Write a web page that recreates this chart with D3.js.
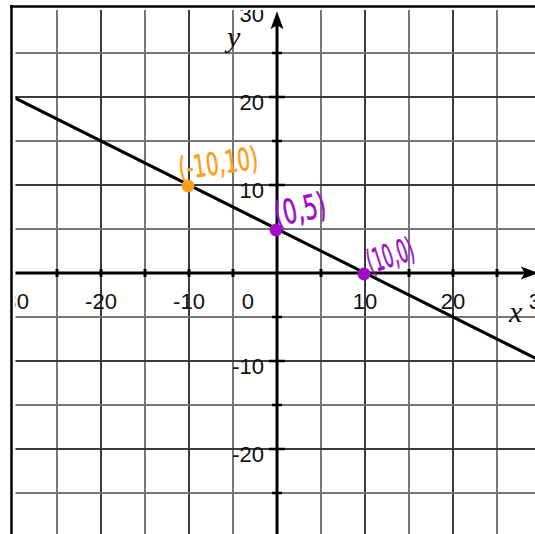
<!DOCTYPE html>
<html>
<head>
<meta charset="utf-8">
<script src="https://cdn.jsdelivr.net/npm/d3@7"></script>
<style>
  html, body { margin: 0; padding: 0; background: #fff; }
  svg { display: block; }
</style>
</head>
<body>
<svg id="chart" width="535" height="534"></svg>
<script>
// Coordinate plane values
const gridValues = [-30, -25, -20, -15, -10, -5, 0, 5, 10, 15, 20, 25, 30];
const xTickLabels = [-30, -20, -10, 10, 20, 30];
const yTickLabels = [-30, -20, -10, 10, 20, 30];

// Line y = 5 - x/2, drawn across the plane
const lineX = [-30, 30];
const lineY = [20, -10];

// Marked points and their handwritten labels
const pointX = [-10, 0, 10];
const pointY = [10, 5, 0];
const pointLabels = ["(-10,10)", "(0,5)", "(10,0)"];
const pointColors = ["#f9a01b", "#9e0fc6", "#9e0fc6"];

const W = 535, H = 534;
const svg = d3.select("#chart");

const x = d3.scaleLinear().domain([-30, 30]).range([13, 541]);
const y = d3.scaleLinear().domain([-30, 30]).range([537, 9]);

// plot area is clipped inside the frame
svg.append("defs").append("clipPath").attr("id", "plotClip")
  .append("rect").attr("x", 15.5).attr("y", 10).attr("width", W - 15.5).attr("height", H - 10);

const plot = svg.append("g").attr("clip-path", "url(#plotClip)");

// grid
const isMajor = v => v % 10 === 0;
plot.append("g").selectAll("line.v").data(gridValues.filter(v => v !== 0)).join("line")
  .attr("x1", d => x(d)).attr("x2", d => x(d))
  .attr("y1", y(30)).attr("y2", y(-30))
  .attr("stroke", d => isMajor(d) ? "#3c3c3c" : "#777")
  .attr("stroke-width", 2);
plot.append("g").selectAll("line.h").data(gridValues.filter(v => v !== 0)).join("line")
  .attr("y1", d => y(d)).attr("y2", d => y(d))
  .attr("x1", x(-30)).attr("x2", x(30))
  .attr("stroke", d => isMajor(d) ? "#3c3c3c" : "#777")
  .attr("stroke-width", 2);

// axes
const tipX = x(29.75), tipY = y(29.75);
plot.append("line")
  .attr("x1", x(-30)).attr("x2", tipX - 6)
  .attr("y1", y(0)).attr("y2", y(0))
  .attr("stroke", "#000").attr("stroke-width", 3);
plot.append("line")
  .attr("x1", x(0)).attr("x2", x(0))
  .attr("y1", y(-30)).attr("y2", tipY + 6)
  .attr("stroke", "#000").attr("stroke-width", 3);

// arrowheads
plot.append("path")
  .attr("d", `M${x(0)},${tipY} L${x(0) - 6.5},${tipY + 18} L${x(0)},${tipY + 14} L${x(0) + 6.5},${tipY + 18} Z`)
  .attr("fill", "#000");
plot.append("path")
  .attr("d", `M${tipX},${y(0)} L${tipX - 18},${y(0) - 6.5} L${tipX - 14},${y(0)} L${tipX - 18},${y(0) + 6.5} Z`)
  .attr("fill", "#000");

// small ticks on the axes
const tickVals = gridValues.filter(v => v !== 0 && Math.abs(v) < 30);
plot.append("g").selectAll("line").data(tickVals).join("line")
  .attr("x1", d => x(d)).attr("x2", d => x(d))
  .attr("y1", y(0) - 4).attr("y2", y(0) + 4)
  .attr("stroke", "#000").attr("stroke-width", 3);
plot.append("g").selectAll("line").data(tickVals).join("line")
  .attr("y1", d => y(d)).attr("y2", d => y(d))
  .attr("x1", d => x(0) - (isMajor(d) ? 8 : 5)).attr("x2", d => x(0) + (isMajor(d) ? 8 : 5))
  .attr("stroke", "#000").attr("stroke-width", 2.5);

// tick labels
const labelFont = "'Liberation Sans', Arial, Helvetica, sans-serif";
plot.append("g").selectAll("text").data(xTickLabels).join("text")
  .attr("x", d => x(d)).attr("y", y(0) + 36)
  .attr("text-anchor", "middle")
  .attr("font-family", labelFont).attr("font-size", 22).attr("fill", "#111")
  .text(d => d);
plot.append("g").selectAll("text").data(yTickLabels).join("text")
  .attr("x", x(0) - 13).attr("y", d => y(d) + 13)
  .attr("text-anchor", "end")
  .attr("font-family", labelFont).attr("font-size", 22).attr("fill", "#111")
  .text(d => d);
plot.append("text")
  .attr("x", x(0) - 23).attr("y", y(0) + 36)
  .attr("text-anchor", "end")
  .attr("font-family", labelFont).attr("font-size", 22).attr("fill", "#111")
  .text("0");

// axis names
plot.append("text")
  .attr("x", x(0) - 50).attr("y", y(30) + 38)
  .attr("font-family", "'Liberation Serif', 'Times New Roman', serif")
  .attr("font-style", "italic").attr("font-size", 30).attr("fill", "#111")
  .text("y");
plot.append("text")
  .attr("x", x(30) - 32).attr("y", y(0) + 49)
  .attr("font-family", "'Liberation Serif', 'Times New Roman', serif")
  .attr("font-style", "italic").attr("font-size", 30).attr("fill", "#111")
  .text("x");

// the line
plot.append("path")
  .datum(lineX.map((v, i) => [v, lineY[i]]))
  .attr("d", d3.line().x(d => x(d[0])).y(d => y(d[1])))
  .attr("stroke", "#000").attr("stroke-width", 3).attr("fill", "none");

// marked points
const pts = pointX.map((v, i) => ({ x: v, y: pointY[i], label: pointLabels[i], color: pointColors[i] }));
plot.append("g").selectAll("circle").data(pts).join("circle")
  .attr("cx", d => x(d.x) - 1).attr("cy", d => y(d.y) + 1)
  .attr("r", 6.5)
  .attr("fill", d => d.color);

// handwritten-style labels: [dx, dy, rotation, width, size]
const labelOffsets = [[29, -22, -8, 80, 31], [23, -20, -12, 52, 34], [25, -18, -18, 48, 32]];
plot.append("g").selectAll("text").data(pts).join("text")
  .attr("transform", (d, i) => {
    const o = labelOffsets[i];
    return `translate(${x(d.x) + o[0]},${y(d.y) + o[1]}) rotate(${o[2]})`;
  })
  .attr("text-anchor", "middle").attr("dy", "0.36em")
  .attr("textLength", (d, i) => labelOffsets[i][3])
  .attr("lengthAdjust", "spacingAndGlyphs")
  .attr("font-family", "'DejaVu Sans', sans-serif")
  .attr("font-size", (d, i) => labelOffsets[i][4])
  .attr("fill", d => d.color)
  .attr("stroke", d => d.color).attr("stroke-width", 0.6)
  .text(d => d.label);

// frame
svg.append("line").attr("x1", 11.5).attr("x2", 11.5).attr("y1", 5).attr("y2", H)
  .attr("stroke", "#000").attr("stroke-width", 2.5);
svg.append("line").attr("x1", 10).attr("x2", W).attr("y1", 6.5).attr("y2", 6.5)
  .attr("stroke", "#000").attr("stroke-width", 2.5);
</script>
</body>
</html>
